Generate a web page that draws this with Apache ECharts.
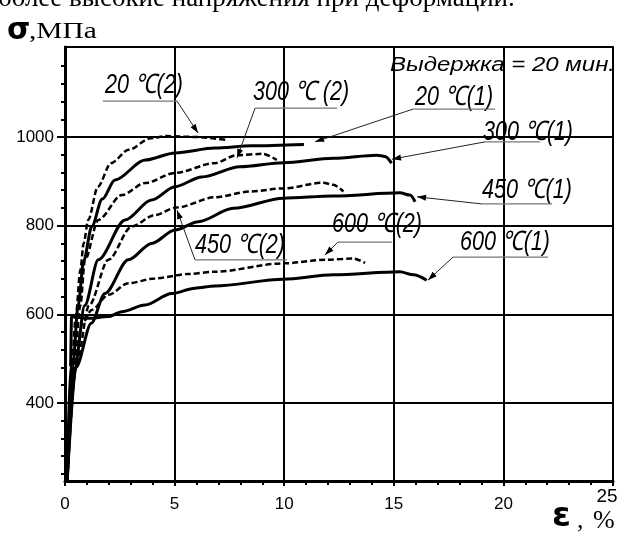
<!DOCTYPE html>
<html>
<head>
<meta charset="utf-8">
<script src="https://cdn.jsdelivr.net/npm/echarts@6/dist/echarts.min.js"></script>
<style>
  html, body { margin: 0; padding: 0; background: #fff; }
  #chart { width: 617px; height: 537px; }
</style>
</head>
<body>
<div id="chart"></div>
<script>
// strain (%) / stress (MPa) points
var curve20_2 = [[0.1,225],[0.3,480],[0.5,600],[0.7,700],[0.85,760],[1.06,813],[1.5,888],[2.1,941],[2.9,971],[3.9,997],[4.6,1002],[6,1000],[7.4,993]];
var curve20_1 = [[0.1,225],[0.35,480],[0.6,620],[0.85,720],[1.22,798],[1.7,860],[2.28,903],[3.65,948],[5.02,964],[6.84,975],[8.5,980],[10.9,983]];
var curve300_2 = [[0.1,225],[0.4,480],[0.7,620],[0.91,723],[1.52,813],[2.59,869],[3.65,896],[5.02,919],[6.84,941],[7.83,959],[9.05,962],[9.66,948]];
var curve300_1 = [[0.1,225],[0.45,480],[0.9,620],[1.52,723],[2.74,813],[3.95,858],[5.02,888],[6.24,910],[7.98,933],[9.96,942],[12.24,952],[14.22,959],[14.6,956],[14.9,941]];
var curve450_2 = [[0.1,225],[0.5,480],[1.1,620],[1.98,723],[3.04,798],[4.1,824],[5.1,841],[6.84,864],[8.44,877],[9.96,884],[11.78,897],[12.24,892],[12.7,877]];
var curve450_1 = [[0.1,225],[0.5,480],[1.2,580],[1.82,647],[2.89,723],[3.95,760],[5.02,790],[6.08,809],[7.68,839],[9.96,862],[12.24,867],[15.28,874],[15.74,869],[15.97,854]];
var curve600_2 = [[0.1,225],[0.4,480],[0.8,580],[1.22,610],[1.98,644],[2.89,670],[4.1,681],[5.63,691],[6.84,696],[9.96,715],[11.94,723],[13.15,726],[13.69,716]];
var curve600_1 = [[0.1,225],[0.25,480],[0.3,595],[1.06,591],[1.98,595],[2.59,606],[3.65,621],[4.87,647],[5.93,659],[6.84,664],[9.96,679],[12.24,689],[15.28,696],[15.9,689],[16.5,677]];

var curveNames = ["20 ℃(2)", "20 ℃(1)", "300 ℃ (2)", "300 ℃(1)", "450 ℃(2)", "450 ℃(1)", "600 ℃(2)", "600 ℃(1)"];
var curves = [curve20_2, curve20_1, curve300_2, curve300_1, curve450_2, curve450_1, curve600_2, curve600_1];
var dashed = [true, false, true, false, true, false, true, false];

var yLabels = [400, 600, 800, 1000];
var xLabels = [0, 5, 10, 15, 20];
var xLastLabel = 25;

// per curve (same order as curveNames): label anchor [x, y], underline [x1, x2, y], arrow tip [x, y]
var noteText = [[1.82,1117],[15.97,1090],[8.58,1101],[19.07,1011],[5.93,756],[19.02,880],[12.18,802],[18.02,761]];
var noteLine = [[1.73,5.11,1081],[15.88,19.62,1063],[8.67,12.41,1065],[19.16,21.67,989],[5.93,10.13,723],[19.02,22.22,849],[12.45,14.92,763],[17.7,22.03,729]];
var noteFromRight = [true, false, false, false, false, false, false, false];
var noteTip = [[6.07,1009],[11.41,989],[7.85,953],[14.92,950],[5.11,835],[16.06,865],[11.86,734],[16.56,677]];

var myChart = echarts.init(document.getElementById("chart"));

var minorTicks = [];
for (var v = 240; v <= 1200; v += 40) {
  if (v % 200 !== 0) minorTicks.push(v);
}

var labelFont = "Liberation Sans";

var series = curves.map(function (c, i) {
  return {
    name: curveNames[i],
    type: "line",
    data: c,
    showSymbol: false,
    smooth: 0.3,
    smoothMonotone: "x",
    lineStyle: {
      color: "#000",
      width: dashed[i] ? 2.5 : 3,
      type: dashed[i] ? [6, 3] : "solid",
    },
    z: 5,
  };
});

var option = {
  animation: false,
  backgroundColor: "#fff",
  grid: {
    left: 65, right: 4, top: 47, bottom: 56,
    show: true, borderColor: "#000", borderWidth: 1,
  },
  xAxis: [
    {
      type: "value",
      min: 0, max: 25, interval: 5,
      axisLine: { show: true, onZero: false, lineStyle: { color: "#000", width: 3 } },
      axisTick: { show: true, length: 5, lineStyle: { color: "#000", width: 2 } },
      minorTick: { show: true, splitNumber: 5, length: 4, lineStyle: { color: "#000", width: 2 } },
      splitLine: { show: true, lineStyle: { color: "#000", width: 2 } },
      axisLabel: {
        color: "#000", fontSize: 17, fontFamily: labelFont, margin: 15,
        customValues: xLabels,
        formatter: function (v) { return String(v); },
      },
    },
    {
      type: "value",
      position: "top",
      min: 0, max: 25,
      axisLine: { show: true, onZero: false, lineStyle: { color: "#000", width: 2 } },
      axisTick: { show: false },
      splitLine: { show: false },
      axisLabel: { show: false },
    },
  ],
  yAxis: [
    {
      type: "value",
      min: 224, max: 1203,
      axisLine: { show: true, onZero: false, lineStyle: { color: "#000", width: 3 } },
      axisTick: { show: true, length: 8, customValues: yLabels, lineStyle: { color: "#000", width: 2 } },
      splitLine: { show: true, lineStyle: { color: "#000", width: 2 } },
      axisLabel: {
        color: "#000", fontSize: 17, fontFamily: labelFont, margin: 11,
        customValues: yLabels,
        formatter: function (v) { return String(v); },
      },
    },
    {
      type: "value",
      position: "left",
      min: 224, max: 1203,
      axisLine: { show: false },
      axisTick: { show: true, length: 4, customValues: minorTicks, lineStyle: { color: "#000", width: 2 } },
      splitLine: { show: false },
      axisLabel: { show: false },
    },
  ],
  series: series,
};

myChart.setOption(option);

function px(p) {
  return myChart.convertToPixel({ xAxisIndex: 0, yAxisIndex: 0 }, p);
}

function txt(x, y, text, st, extra) {
  var style = Object.assign({ text: text, fill: "#000" }, st);
  return Object.assign({ type: "text", x: x, y: y, style: style, z: 10 }, extra || {});
}

var graphics = [];

// text cut off at the very top of the scan
graphics.push(txt(-2, 12, "более высокие напряжения при деформации.",
  { fontFamily: "Liberation Serif", fontSize: 27, verticalAlign: "bottom" }));
graphics.push(txt(7, 46, "σ",
  { fontFamily: "DejaVu Sans", fontWeight: "bold", fontSize: 30, verticalAlign: "bottom" }));
graphics.push(txt(29, 43, ",МПа",
  { fontFamily: "Liberation Serif", fontSize: 28, verticalAlign: "bottom" }, { scaleX: 1.05, scaleY: 0.82 }));

// lone "25" sits higher than the other x labels
var last = px([xLastLabel, 224]);
graphics.push(txt(last[0] - 6, last[1] + 6, String(xLastLabel),
  { fontFamily: labelFont, fontSize: 19, align: "center", verticalAlign: "top" }));

graphics.push(txt(552, 534, "ε",
  { fontFamily: "DejaVu Sans", fontWeight: "bold", fontSize: 34, verticalAlign: "bottom" }));
graphics.push(txt(577, 534, ",",
  { fontFamily: "Liberation Serif", fontSize: 26, verticalAlign: "bottom" }));
graphics.push(txt(593, 534, "%",
  { fontFamily: "Liberation Serif", fontSize: 26, verticalAlign: "bottom" }));

var hold = px([14.83, 1162]);
graphics.push(txt(hold[0], hold[1], "Выдержка = 20 мин.",
  { fontFamily: "Liberation Sans", fontStyle: "italic", fontSize: 20, verticalAlign: "middle" },
  { scaleX: 1.2 }));

curves.forEach(function (c, i) {
  var t = px(noteText[i]);
  var a = px([noteLine[i][0], noteLine[i][2]]);
  var b = px([noteLine[i][1], noteLine[i][2]]);
  var tip = px(noteTip[i]);
  var from = noteFromRight[i] ? b : a;

  graphics.push(txt(t[0], t[1], curveNames[i],
    { fontFamily: "Liberation Sans", fontStyle: "italic", fontSize: 27, verticalAlign: "middle" },
    { scaleX: 0.8 }));
  graphics.push({
    type: "line", shape: { x1: a[0], y1: a[1], x2: b[0], y2: b[1] },
    style: { stroke: "#777", lineWidth: 1.2 }, z: 10,
  });
  graphics.push({
    type: "line", shape: { x1: from[0], y1: from[1], x2: tip[0], y2: tip[1] },
    style: { stroke: "#222", lineWidth: 1 }, z: 10,
  });
  var ang = Math.atan2(tip[1] - from[1], tip[0] - from[0]);
  var len = 9, w = 3;
  var bx = tip[0] - len * Math.cos(ang), by = tip[1] - len * Math.sin(ang);
  graphics.push({
    type: "polygon",
    shape: { points: [
      [tip[0], tip[1]],
      [bx + w * Math.sin(ang), by - w * Math.cos(ang)],
      [bx - w * Math.sin(ang), by + w * Math.cos(ang)],
    ] },
    style: { fill: "#000" }, z: 10,
  });
});

myChart.setOption({ graphic: graphics });
</script>
</body>
</html>
